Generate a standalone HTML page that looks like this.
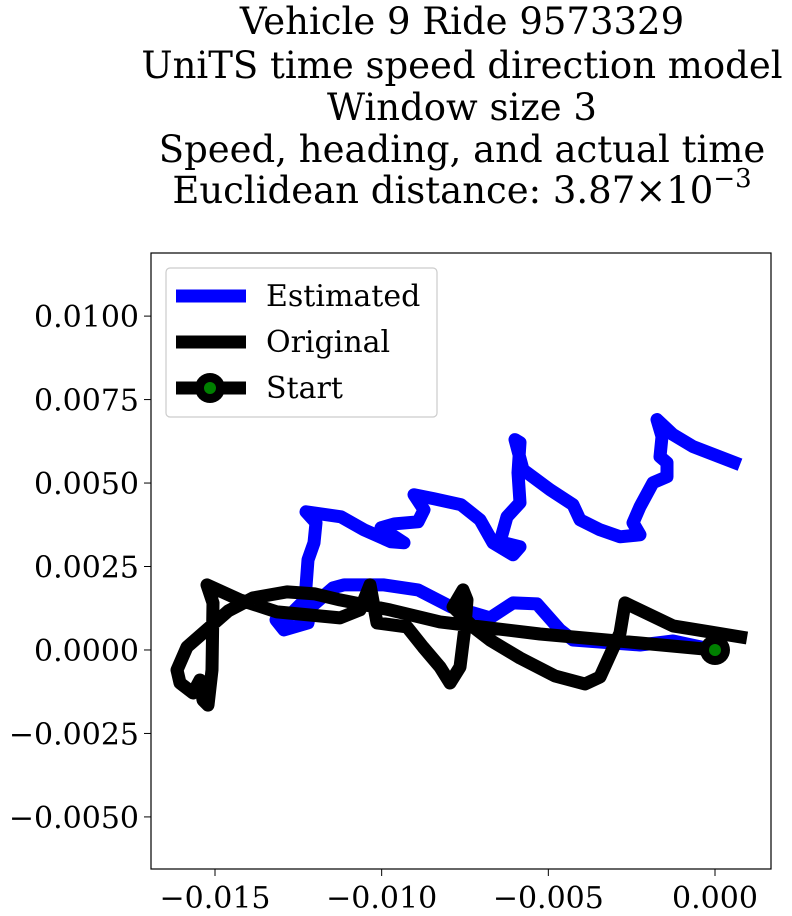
<!DOCTYPE html>
<html><head><meta charset="utf-8"><style>
body{margin:0;background:#fff;}
svg{display:block;font-family:"DejaVu Serif","Liberation Serif",serif;}
</style></head><body>
<svg id="chart" width="792" height="916" viewBox="0 0 792 916">
<g font-size="37" text-anchor="middle" fill="#000">
<text x="462" y="34">Vehicle 9 Ride 9573329</text>
<text x="462" y="78">UniTS time speed direction model</text>
<text x="462" y="120">Window size 3</text>
<text x="462" y="162">Speed, heading, and actual time</text>
<text x="462" y="203">Euclidean distance: 3.87×10<tspan font-size="26" dy="-16">−3</tspan></text>
</g>
<g id="plot"></g>
<rect x="151" y="253" width="620" height="616" fill="none" stroke="#000" stroke-width="1.2"/>
<g id="xticks" font-size="30" text-anchor="middle"></g>
<g id="yticks" font-size="30" text-anchor="end"></g>
<g font-size="30">
<rect x="166" y="268" width="271" height="149" rx="4" fill="#fff" fill-opacity="0.85" stroke="#ccc" stroke-width="1.2"/>
<line x1="176" y1="296" x2="246" y2="296" stroke="#0000ff" stroke-width="13"/>
<text x="266" y="306">Estimated</text>
<line x1="176" y1="342" x2="246" y2="342" stroke="#000" stroke-width="13"/>
<text x="266" y="352">Original</text>
<line x1="176" y1="388" x2="246" y2="388" stroke="#000" stroke-width="13"/>
<circle cx="210" cy="388" r="15" fill="#000"/><circle cx="210" cy="388" r="6" fill="#008000"/>
<text x="266" y="398">Start</text>
</g>
</svg>
<script>
const estX=[0,-0.00126,-0.00225,-0.00426,-0.00465,-0.00534,-0.00606,-0.00675,-0.00726,-0.00792,-0.00891,-0.00993,-0.01113,-0.01146,-0.01212,-0.01221,-0.01293,-0.01317,-0.01275,-0.01230,-0.01221,-0.01203,-0.01197,-0.01227,-0.01122,-0.01053,-0.00972,-0.00933,-0.01002,-0.00960,-0.00891,-0.00873,-0.00903,-0.00843,-0.00762,-0.00705,-0.00666,-0.00606,-0.00585,-0.00645,-0.00624,-0.00585,-0.00591,-0.00585,-0.00600,-0.00576,-0.00495,-0.00426,-0.00405,-0.00345,-0.00285,-0.00225,-0.00246,-0.00225,-0.00186,-0.00144,-0.00144,-0.00165,-0.00159,-0.00174,-0.00126,-0.00066,0.00075];
const estY=[0,0.00027,0.00015,0.00030,0.00060,0.00138,0.00141,0.00096,0.00111,0.00129,0.00180,0.00195,0.00195,0.00186,0.00129,0.00081,0.00060,0.00090,0.00105,0.00150,0.00270,0.00321,0.00381,0.00414,0.00399,0.00360,0.00324,0.00321,0.00366,0.00378,0.00384,0.00420,0.00465,0.00453,0.00435,0.00390,0.00321,0.00285,0.00309,0.00324,0.00399,0.00441,0.00531,0.00621,0.00630,0.00540,0.00480,0.00435,0.00390,0.00360,0.00339,0.00345,0.00381,0.00429,0.00501,0.00519,0.00561,0.00579,0.00639,0.00690,0.00645,0.00609,0.00555];
const origX=[0,-0.00225,-0.00525,-0.00825,-0.00975,-0.01125,-0.01200,-0.01284,-0.01386,-0.01460,-0.01515,-0.01584,-0.01614,-0.01605,-0.01566,-0.01545,-0.01536,-0.01521,-0.01509,-0.01506,-0.01524,-0.01425,-0.01314,-0.01125,-0.01065,-0.01035,-0.01014,-0.00924,-0.00876,-0.00825,-0.00795,-0.00765,-0.00750,-0.00744,-0.00756,-0.00786,-0.00726,-0.00675,-0.00585,-0.00480,-0.00390,-0.00345,-0.00285,-0.00270,-0.00126,-0.00015,0.00096];
const origY=[0,0.00021,0.00048,0.00084,0.00120,0.00150,0.00168,0.00174,0.00156,0.00117,0.00069,0.00009,-0.00060,-0.00099,-0.00129,-0.00090,-0.00150,-0.00165,-0.00060,0.00141,0.00195,0.00150,0.00114,0.00096,0.00120,0.00195,0.00081,0.00069,0.00009,-0.00051,-0.00099,-0.00051,0.00069,0.00150,0.00180,0.00129,0.00069,0.00030,-0.00024,-0.00078,-0.00102,-0.00081,0.00051,0.00141,0.00072,0.00054,0.00036];
const startPt=[0,0];
const xTicks=[-0.015,-0.010,-0.005,0.000];
const xTickLabels=["−0.015","−0.010","−0.005","0.000"];
const yTicks=[0.0100,0.0075,0.0050,0.0025,0,-0.0025,-0.0050];
const yTickLabels=["0.0100","0.0075","0.0050","0.0025","0.0000","−0.0025","−0.0050"];

const X0=151,X1=771,Y0=253,Y1=869;
const xMin=-0.01692,xMax=0.00168,yMin=-0.00656,yMax=0.01189;
const sx=v=>X0+(v-xMin)/(xMax-xMin)*(X1-X0);
const sy=v=>Y1-(v-yMin)/(yMax-yMin)*(Y1-Y0);
const NS="http://www.w3.org/2000/svg";
const plot=document.getElementById('plot');
function path(xs,ys,color,name){
  const p=document.createElementNS(NS,'polyline');
  p.setAttribute('points',xs.map((x,i)=>sx(x).toFixed(1)+','+sy(ys[i]).toFixed(1)).join(' '));
  p.setAttribute('fill','none');p.setAttribute('stroke',color);p.setAttribute('stroke-width','13');
  p.setAttribute('stroke-linejoin','round');p.setAttribute('stroke-linecap','butt');
  
  
  plot.appendChild(p);
}
path(estX,estY,'#0000ff','estimated-line');
path(origX,origY,'#000','original-line');
const c1=document.createElementNS(NS,'circle');
c1.setAttribute('cx',sx(startPt[0]));c1.setAttribute('cy',sy(startPt[1]));c1.setAttribute('r','15');c1.setAttribute('fill','#000');


plot.appendChild(c1);
const c2=document.createElementNS(NS,'circle');
c2.setAttribute('cx',sx(startPt[0]));c2.setAttribute('cy',sy(startPt[1]));c2.setAttribute('r','6');c2.setAttribute('fill','#008000');


plot.appendChild(c2);
const xg=document.getElementById('xticks');
xTicks.forEach((v,i)=>{
  const l=document.createElementNS(NS,'line');
  l.setAttribute('x1',sx(v));l.setAttribute('x2',sx(v));l.setAttribute('y1',Y1);l.setAttribute('y2',Y1+7);l.setAttribute('stroke','#000');
  
  
  xg.appendChild(l);
  const t=document.createElementNS(NS,'text');
  t.setAttribute('x',sx(v));t.setAttribute('y',Y1+39);t.textContent=xTickLabels[i];
  
  
  xg.appendChild(t);
});
const yg=document.getElementById('yticks');
yTicks.forEach((v,i)=>{
  const l=document.createElementNS(NS,'line');
  l.setAttribute('x1',X0-7);l.setAttribute('x2',X0);l.setAttribute('y1',sy(v));l.setAttribute('y2',sy(v));l.setAttribute('stroke','#000');
  
  
  yg.appendChild(l);
  const t=document.createElementNS(NS,'text');
  t.setAttribute('x',X0-12);t.setAttribute('y',sy(v)+11);t.textContent=yTickLabels[i];
  
  
  yg.appendChild(t);
});
</script>
</body></html>
